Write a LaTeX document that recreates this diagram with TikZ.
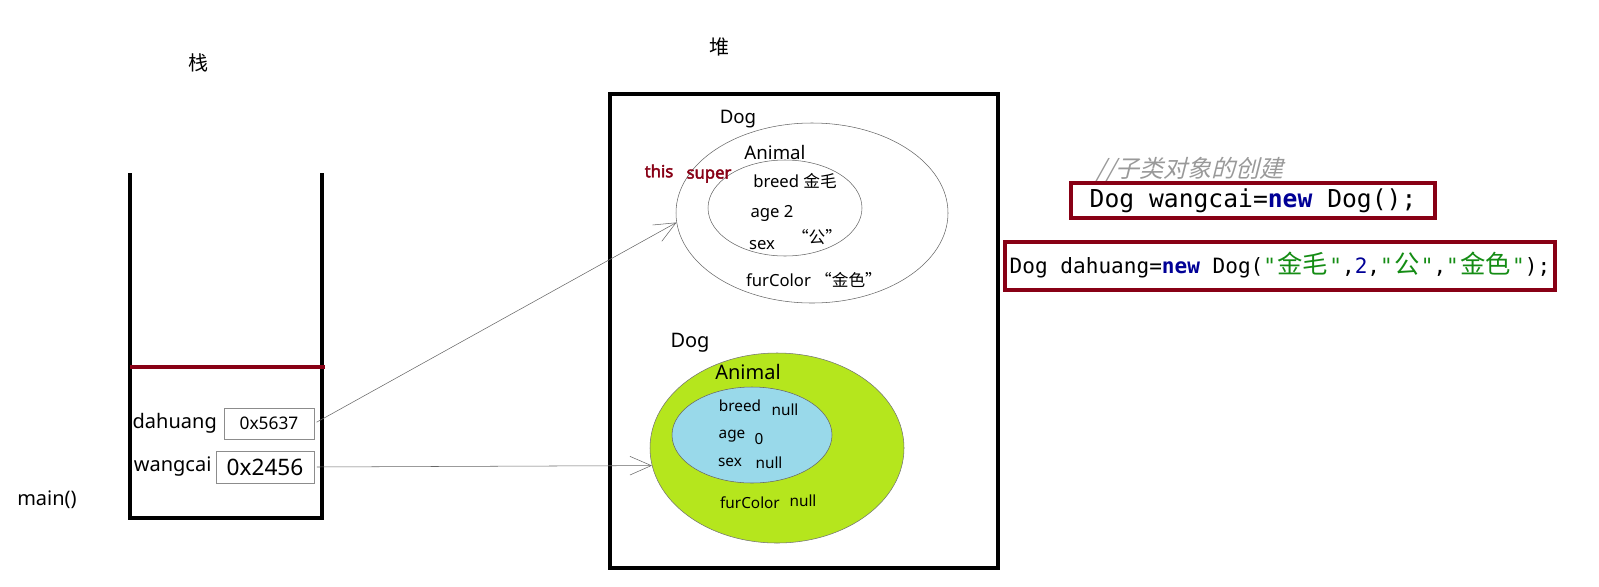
\documentclass[tikz,border=0pt]{standalone}
\usepackage{fontspec}
\setmainfont{Noto Sans}
\setmonofont{DejaVu Sans Mono}
\newfontfamily\cjk{Noto Sans CJK SC}
\newfontfamily\cjkslant[FakeSlant=0.25]{Noto Sans CJK SC}
\newfontfamily\heavysans[FakeBold=2.5]{Noto Sans}
\usetikzlibrary{shapes.geometric, arrows.meta, positioning}
\definecolor{darkred}{RGB}{136,0,21}
\definecolor{heapgreen}{RGB}{181,230,29}
\definecolor{heapblue}{RGB}{153,217,234}
\definecolor{codeblue}{RGB}{0,0,150}
\definecolor{codegreen}{RGB}{20,140,20}
\newcommand{\fsz}[1]{\fontsize{#1}{#1}\selectfont}
\newcommand{\zh}[1]{{\cjk #1}}
\newcommand{\zhq}[1]{\hspace{1pt}{\cjk\fsz{19}#1}\hspace{1pt}}

\begin{document}
\begin{tikzpicture}[x=0.75pt, y=-0.75pt,
	obj/.style={ellipse, draw=black!60, inner sep=0pt},
	ptr/.style={draw=black!60, -{Straight Barb[length=16pt, width=14pt]}, shorten <=2pt},
	addr/.style={draw=black!45, inner sep=0pt},
	codebox/.style={draw=darkred, line width=3pt, inner sep=0pt}]
	\useasboundingbox (0,0) rectangle (1599,586);
	
	% stack
	\node [font=\cjk\fsz{15}] (stk) at (198,63) {栈};
	\draw [line width=3pt] (130,173) -- (130,518) -- (322,518) -- (322,173);
	\draw [darkred, line width=2.5pt] (130,367) -- (325,367);
	\node [addr, minimum width=67.5pt, minimum height=23.25pt, font=\fsz{13}] (p1) at (269,423.5) {0x5637};
	\node [addr, minimum width=73.5pt, minimum height=24pt, font=\fsz{17}] (p2) at (265,467) {0x2456};
	\node [left=5pt of p1, inner sep=0pt, font=\fsz{15}] (v1) {dahuang};
	\node [left=3pt of p2, inner sep=0pt, font=\fsz{15}] (v2) {wangcai};
	\node [font=\fsz{15}] (mn) at (47,500) {main()};
	
	% heap
	\node [font=\cjk\fsz{15}] (hp) at (719,47) {堆};
	\draw [line width=3pt] (610,94) rectangle (998,568);
	
	\node [obj, minimum width=204pt, minimum height=135pt] (dogA) at (812,213) {};
	\node [obj, minimum width=115.5pt, minimum height=72pt] (aniA) at (785,208) {};
	\node [font=\fsz{14}] at (738,119) {Dog};
	\node [font=\fsz{14}] at (775,152) {Animal};
	\node [darkred, font=\heavysans\fsz{12.5}] at (659,171) {this};
	\node [darkred, font=\heavysans\fsz{12.5}] at (709,176) {super};
	\node [font=\fsz{12.5}] at (795,181) {breed \zh{金毛}};
	\node [font=\fsz{12.5}] at (772,213) {age 2};
	\node [font=\fsz{12.5}] at (762,245) {sex};
	\node [font=\fsz{12.5}] at (817,237) {\zh{“公”}};
	\node [font=\fsz{12.5}] at (814,280) {furColor \zh{“金色”}};
	
	\node [obj, fill=heapgreen, draw=black!55, minimum width=190.5pt, minimum height=142.5pt] (dogB) at (777,448) {};
	\node [obj, fill=heapblue, draw=black!60, minimum width=120pt, minimum height=72pt] (aniB) at (752,435) {};
	\node [font=\fsz{15}] at (690,343) {Dog};
	\node [font=\fsz{15}] at (748,372) {Animal};
	\node [font=\fsz{11.5}] at (740,406) {breed};
	\node [font=\fsz{11.5}] at (785,410) {null};
	\node [font=\fsz{11.5}] at (732,436) {age};
	\node [font=\fsz{11.5}] at (759,439) {0};
	\node [font=\fsz{11.5}] at (730,462) {sex};
	\node [font=\fsz{11.5}] at (769,463) {null};
	\node [font=\fsz{11.5}] at (750,503) {furColor};
	\node [font=\fsz{11.5}] at (803,501) {null};
	
	\draw [ptr] (p1.east) -- (dogA.184);
	\draw [ptr] (p2.east) -- (dogB.188);
	
	% code
	\node [black!40, font=\cjkslant\fsz{18}] (cm) at (1190,170) {//子类对象的创建};
	\node [codebox, minimum width=273pt, minimum height=26.25pt, font=\ttfamily\fsz{18.5}] (c1) at (1253,200.5)
		{Dog wangcai=\textcolor{codeblue}{\textbf{new}} Dog();};
	\node [codebox, minimum width=412.5pt, minimum height=36pt, font=\ttfamily\fsz{15.8}] (c2) at (1280,265.5)
		{Dog dahuang=\textcolor{codeblue}{\textbf{new}} Dog(\textcolor{codegreen}{"\zhq{金毛}"},\textcolor{codeblue}{2},\textcolor{codegreen}{"\zhq{公}"},\textcolor{codegreen}{"\zhq{金色}"});};
	
\end{tikzpicture}
\end{document}
